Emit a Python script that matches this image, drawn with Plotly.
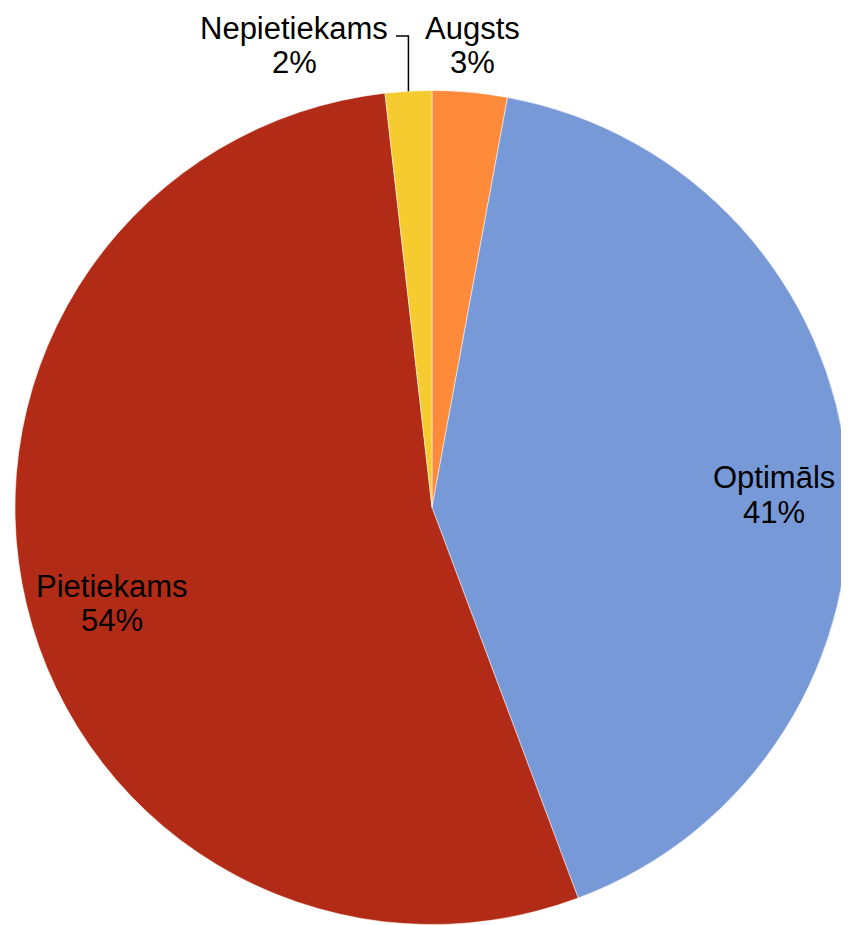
import math
import plotly.graph_objects as go

# ---- data ----
labels = ["Augsts", "Optimāls", "Pietiekams", "Nepietiekams"]
values = [2.9, 41.4, 53.9, 1.8]
colors = ["#FF8A3A", "#7799D7", "#B22B16", "#F5CB2F"]

PAGE_OFF = 8  # default body margin of the html page
W, H = 849 - PAGE_OFF, 925 - PAGE_OFF
# pie geometry (page pixels -> figure pixels)
left_px, top_px = 15 - PAGE_OFF, 90 - PAGE_OFF
dom_x = [left_px / W, 1.0]
dom_y = [0.0, (H - top_px) / H]
R = min(W - left_px, H - top_px) / 2.0
cx = (left_px + W) / 2.0
cy = top_px + (H - top_px) / 2.0

fig = go.Figure(go.Pie(
    labels=labels, values=values, sort=False, direction="clockwise", rotation=0,
    marker=dict(colors=colors, line=dict(color="white", width=0.5)),
    textinfo="none", hoverinfo="label+percent", showlegend=False,
    domain=dict(x=dom_x, y=dom_y),
))

total = sum(values)
pcts = [f"{round(v / total * 100)}%" for v in values]

# label block centres in page pixels (style positions)
label_pos = {
    "Augsts": (472, 45),
    "Optimāls": (774, 495),
    "Pietiekams": (112, 603),
    "Nepietiekams": (294, 45),
}
half_gap = 17
font = dict(family="Liberation Sans, Arial, sans-serif", size=31, color="black")

def px2paper(x, y):
    return x / W, 1 - y / H

ann = []
for lab, p in zip(labels, pcts):
    x, y = label_pos[lab]
    x -= PAGE_OFF
    y -= PAGE_OFF
    for txt, yy in ((lab, y - half_gap), (p, y + half_gap)):
        ax, ay = px2paper(x, yy)
        ann.append(dict(text=txt, x=ax, y=ay, xref="paper", yref="paper",
                        xanchor="center", yanchor="middle", showarrow=False, font=font))

# leader line for the small "Nepietiekams" slice, from its mid-angle on the rim
cum = 0
for lab, v in zip(labels, values):
    if lab == "Nepietiekams":
        mid = (cum + v / 2) / total * 2 * math.pi
    cum += v
ex = cx + R * math.sin(mid)
ey = cy - R * math.cos(mid)
elbow_y = 36 - PAGE_OFF
end_x = 396 - PAGE_OFF
pts = [(ex, ey), (ex, elbow_y), (end_x, elbow_y)]
path = "M " + " L ".join(f"{px2paper(x, y)[0]},{px2paper(x, y)[1]}" for x, y in pts)
shapes = [dict(type="path", path=path, xref="paper", yref="paper",
               line=dict(color="black", width=1.5))]

fig.update_layout(
    width=W, height=H, margin=dict(l=0, r=0, t=0, b=0),
    paper_bgcolor="white", plot_bgcolor="white",
    annotations=ann, shapes=shapes,
)
fig.write_html("out.html")
